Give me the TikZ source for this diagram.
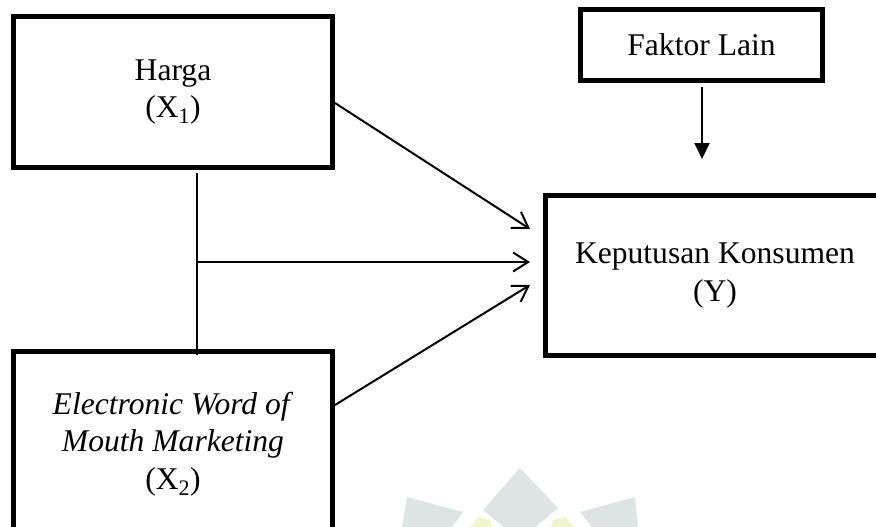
\documentclass[tikz,border=0pt]{standalone}
\usepackage{fontspec}
\setmainfont{Liberation Serif}
\usetikzlibrary{arrows.meta}
\definecolor{wmgrey}{HTML}{DCE4E6}
\definecolor{wmyellow}{HTML}{F2F4CC}
\begin{document}
\begin{tikzpicture}[x=1pt,y=-1pt,
  box/.style={draw=black,line width=5pt,fill=white,rectangle,align=center,inner sep=0pt,
    font=\fontsize{31.6}{37.5}\selectfont},
  conn/.style={line width=2pt},
  arr/.style={line width=2pt,-{Straight Barb[length=15pt,width=19pt,line width=2pt]}},
  farr/.style={line width=2pt,-{Triangle[length=16pt,width=15pt]}}]
\useasboundingbox (0,0) rectangle (876,527);
\clip (0,0) rectangle (876,527);
% faint watermark
\fill[wmgrey] (520,468) -- (558,508) -- (520,540) -- (483,510) -- cycle;
\fill[wmgrey] (407,497) -- (463,512) -- (452,527) -- (402,527) -- cycle;
\fill[wmgrey] (635,497) -- (580,512) -- (592,527) -- (638,527) -- cycle;
\fill[wmyellow] (478,517) -- (490,520) -- (492,527) -- (470,527) -- cycle;
\fill[wmyellow] (565,517) -- (553,520) -- (551,527) -- (574,527) -- cycle;
% boxes
\node[box,minimum width=319pt,minimum height=151pt] (h) at (173,92) {Harga\\(X\textsubscript{1})};
\node[box,minimum width=319pt,minimum height=185pt] (e) at (173,444)
  {\textit{Electronic Word of}\\\textit{Mouth Marketing}\\(X\textsubscript{2})};
\node[box,minimum width=242pt,minimum height=71pt] (f) at (701.5,45) {Faktor Lain};
\node[box,minimum width=339pt,minimum height=160pt] (k) at (715,275.5) {Keputusan Konsumen\\(Y)};
% helper coordinates
\coordinate (vtop) at (197,173);
\coordinate (vbot) at (197,355);
\coordinate (j) at (197,262);
\coordinate (t1) at (530,229);
\coordinate (t2) at (530,262);
\coordinate (t3) at (530,285);
\coordinate (ft) at (702,159);
% connectors
\draw[conn] (vtop) -- (vbot);
\draw[arr] ([yshift=-11pt]h.east) -- (t1);
\draw[arr] (j) -- (t2);
\draw[arr] ([yshift=39pt]e.east) -- (t3);
\draw[farr] ([yshift=-4pt]f.south -| ft) -- (ft);
\end{tikzpicture}
\end{document}
